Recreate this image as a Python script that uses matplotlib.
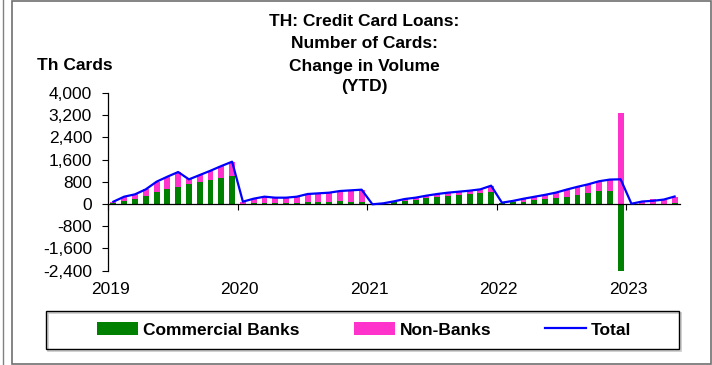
import numpy as np
import pandas as pd
import matplotlib
matplotlib.use("Agg")
import matplotlib.pyplot as plt
from matplotlib.patches import Rectangle, Patch
from matplotlib.lines import Line2D

plt.rcParams['font.family'] = ['Liberation Sans', 'DejaVu Sans']

months = pd.date_range('2019-01-01', periods=53, freq='MS')
year_labels = ['2019', '2020', '2021', '2022', '2023']

total = [84, 264, 348, 528, 804, 984, 1152, 888, 1044, 1200, 1368, 1524,
         84, 192, 264, 228, 228, 264, 360, 384, 408, 468, 492, 516,
         -10, 24, 96, 180, 228, 300, 360, 408, 444, 480, 528, 660,
         48, 110, 190, 260, 330, 410, 520, 620, 710, 820, 880, 890,
         10, 90, 115, 160, 270]
commercial_banks = [48, 108, 192, 300, 444, 552, 624, 732, 804, 876, 948, 1020,
                    12, 24, 36, 24, 36, 48, 60, 60, 84, 120, 84, 60,
                    -5, 24, 72, 120, 156, 216, 264, 300, 336, 360, 384, 430,
                    36, 60, 84, 144, 180, 228, 264, 336, 396, 456, 480, -2400,
                    5, 10, -50, 15, 25]
non_banks = [36, 156, 156, 228, 360, 432, 528, 156, 240, 324, 420, 504,
             72, 168, 228, 204, 192, 216, 300, 324, 324, 348, 408, 456,
             -5, 0, 24, 60, 72, 84, 96, 108, 108, 120, 144, 230,
             12, 50, 106, 116, 150, 182, 256, 284, 314, 364, 400, 3290,
             5, 80, 165, 145, 245]

y_ticks = [-2400, -1600, -800, 0, 800, 1600, 2400, 3200, 4000]

GREEN = '#008000'
PINK = '#FF33CC'
BLUE = '#0000FF'
FS = 12.5

W, H = 712, 365
fig = plt.figure(figsize=(W / 100, H / 100), dpi=100)
ax_left, ax_right, ax_top, ax_bot = 108, 680, 93, 270.6
ax = fig.add_axes([ax_left / W, (H - ax_bot) / H, (ax_right - ax_left) / W, (ax_bot - ax_top) / H])

x = np.arange(len(months))
b = np.array(commercial_banks, dtype=float)
nb = np.array(non_banks, dtype=float)
bw = 0.55
ax.bar(x, b, width=bw, color=GREEN, zorder=2)
nb_bottom = np.where(nb >= 0, np.maximum(b, 0), np.minimum(b, 0))
ax.bar(x, nb, width=bw, bottom=nb_bottom, color=PINK, zorder=2)
ax.plot(x, total, color=BLUE, lw=1.6, zorder=3)

ax.set_xlim(-0.5, len(months) - 0.5)
ax.set_ylim(-2400, 4000)
ax.set_yticks(y_ticks)
ax.set_yticklabels([f'{v:,}' for v in y_ticks], fontsize=FS)
ax.tick_params(axis='y', direction='out', length=4, width=0.8, pad=7.6)

year_pos = [i for i, m in enumerate(months) if m.month == 1]
ax.set_xticks([p - 0.5 for p in year_pos])
ax.set_xticklabels([])
ax.tick_params(axis='x', direction='out', length=4, width=0.8)
for p, lab in zip(year_pos, year_labels):
    ax.text(p - 0.3, -0.109, lab, transform=ax.get_xaxis_transform(),
            ha='center', va='center', fontsize=FS)

for s in ['top', 'right']:
    ax.spines[s].set_visible(False)
ax.spines['bottom'].set_position(('data', 0))
ax.spines['bottom'].set_linewidth(0.9)
ax.spines['left'].set_linewidth(0.9)
ax.patch.set_visible(False)

# Titles
title_lines = ['TH: Credit Card Loans:', 'Number of Cards:', 'Change in Volume', '(YTD)']
for yy, t in zip([22, 44, 66, 87], title_lines):
    fig.text(364 / W, 1 - yy / H, t, ha='center', va='center', fontsize=FS, fontweight='bold')
fig.text(37 / W, 1 - 66 / H, 'Th Cards', ha='left', va='center', fontsize=FS, fontweight='bold')

# Legend
handles = [Patch(facecolor=GREEN, edgecolor='none'),
           Patch(facecolor=PINK, edgecolor='none'),
           Line2D([], [], color=BLUE, lw=1.6)]
labels = ['Commercial Banks', 'Non-Banks', 'Total']
fig.legend(handles, labels, loc='center', bbox_to_anchor=(364.5 / W, 1 - 330 / H),
           ncol=3, frameon=False, handlelength=2.35, handletextpad=0.3,
           columnspacing=3.1, prop={'size': FS, 'weight': 'bold'})
fig.patches.append(Rectangle((48 / W, 1 - 351 / H), 633 / W, 38 / H, transform=fig.transFigure,
                             fill=False, ec='#c8c8c8', lw=1.2))
fig.patches.append(Rectangle((46 / W, 1 - 349 / H), 633 / W, 38 / H, transform=fig.transFigure,
                             fill=False, ec='black', lw=1.0))

# Outer frame
fig.patches.append(Rectangle((12 / W, 1 - 364 / H), 699 / W, 363 / H, transform=fig.transFigure,
                             fill=False, ec='#707070', lw=1.2))
fig.lines.append(Line2D([3 / W, 3 / W], [0, 1], transform=fig.transFigure, color='#808080', lw=1.0))

fig.savefig('out.png', dpi=100)
